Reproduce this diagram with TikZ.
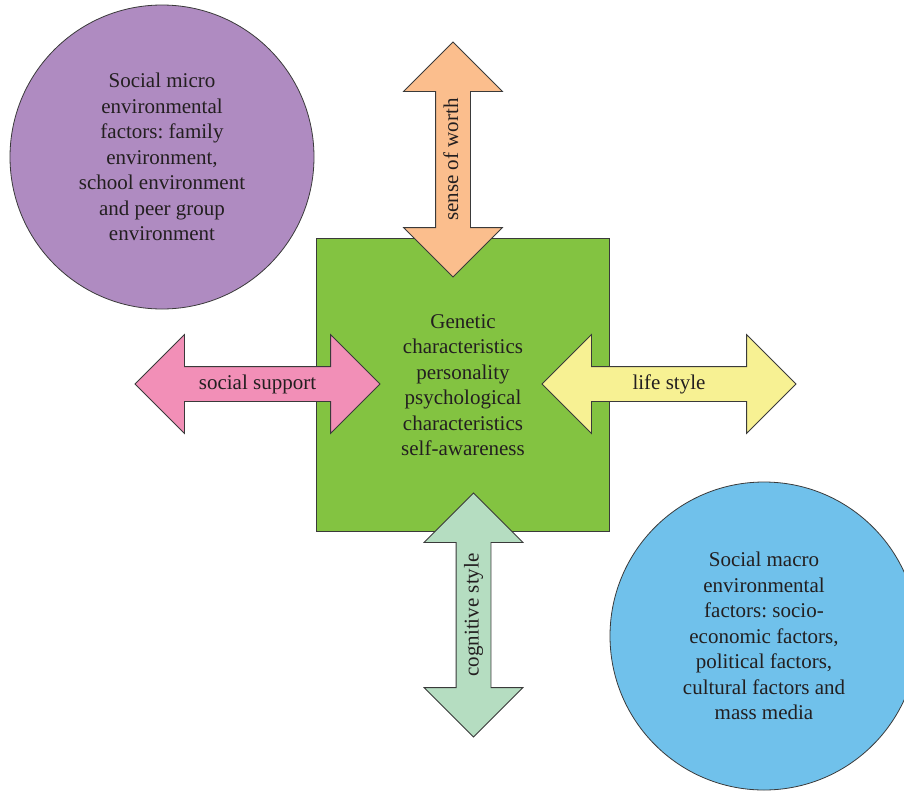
\documentclass[tikz,border=0pt]{standalone}
\usepackage{fontspec}
\setmainfont{Liberation Serif}
\usetikzlibrary{positioning,shapes.arrows}
\frenchspacing
\definecolor{microcol}{RGB}{175,139,193}
\definecolor{macrocol}{RGB}{112,193,235}
\definecolor{corecol}{RGB}{131,195,65}
\definecolor{worthcol}{RGB}{251,190,141}
\definecolor{supportcol}{RGB}{242,143,183}
\definecolor{stylecol}{RGB}{247,241,147}
\definecolor{cogcol}{RGB}{181,221,193}
\definecolor{linecol}{RGB}{58,58,58}
\definecolor{textcol}{RGB}{35,31,32}

\begin{document}
\begin{tikzpicture}[x=1pt,y=-1pt,
  every node/.style={text=textcol, font=\fontsize{21}{25.5}\selectfont},
  blob/.style={circle, draw=linecol, line width=0.8pt, inner sep=0pt, align=center},
  dblarrow/.style={double arrow, draw=linecol, line width=0.8pt,
    double arrow head extend=32pt, text height=22pt, text depth=12pt,
    inner ysep=0pt, inner xsep=0pt}]
  \useasboundingbox (0,0) rectangle (904,790);
  % outer circles
  \node[blob, fill=microcol, minimum size=304pt] (micro) at (162,157)
    {Social micro\\ environmental\\ factors: family\\ environment,\\ school environment\\ and peer group\\ environment};
  \node[blob, fill=macrocol, minimum size=308pt] (macro) at (764,636)
    {Social macro\\ environmental\\ factors: socio-\\ economic factors,\\ political factors,\\ cultural factors and\\ mass media};
  % centre square
  \node[rectangle, draw=linecol, line width=0.8pt, fill=corecol, minimum size=293pt, align=center] (core) at (463,385)
    {Genetic\\ characteristics\\ personality\\ psychological\\ characteristics\\ self-awareness};
  % four double arrows
  \node[dblarrow, fill=worthcol, rotate=90, minimum height=235pt] (worth) at (453,159.5) {sense of worth};
  \node[dblarrow, fill=supportcol, minimum height=245pt] (support) at (257.5,384) {social support};
  \node[dblarrow, fill=stylecol, minimum height=254pt] (life) at (669,384) {life style};
  \node[dblarrow, fill=cogcol, rotate=90, minimum height=244pt] (cog) at (473.5,615) {cognitive style};
\end{tikzpicture}
\end{document}
